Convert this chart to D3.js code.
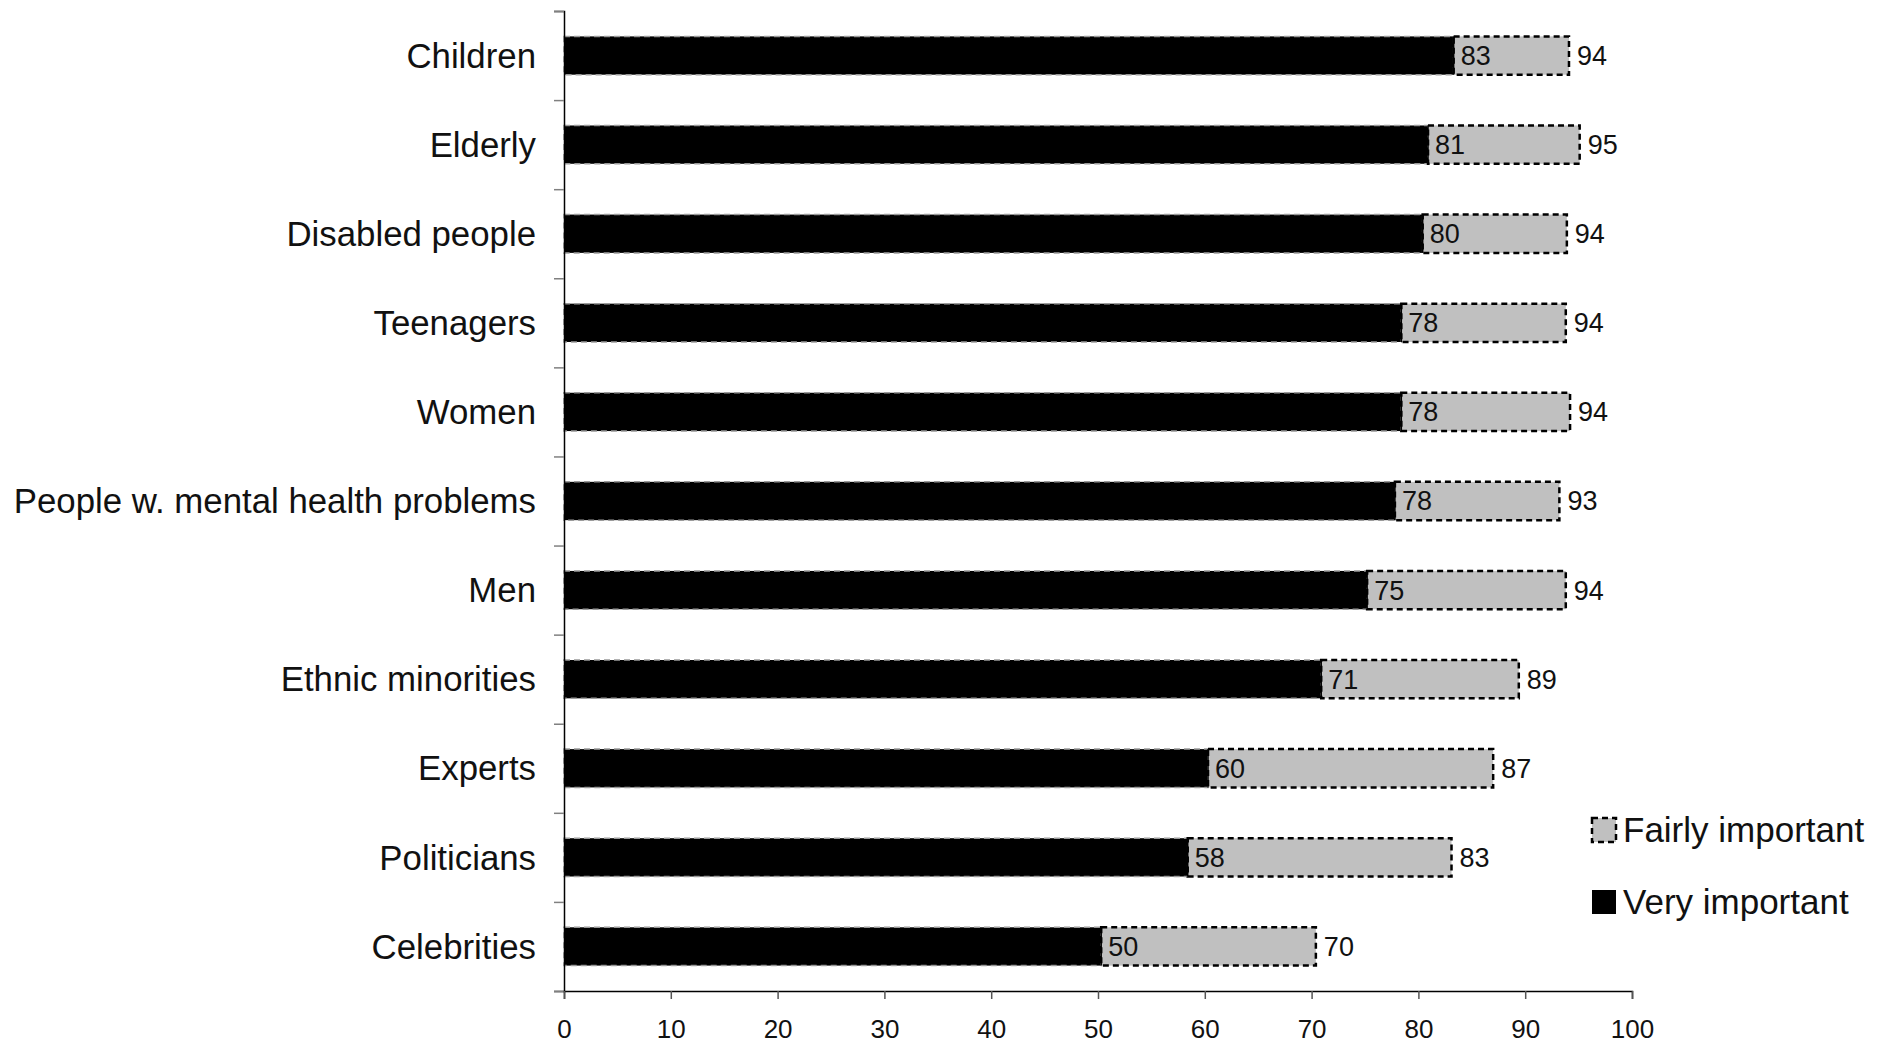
<!DOCTYPE html>
<html>
<head>
<meta charset="utf-8">
<script src="https://cdn.jsdelivr.net/npm/d3@7"></script>
<style>
  html, body { margin: 0; padding: 0; background: #fff; }
  svg { display: block; font-family: "Liberation Sans", Arial, sans-serif; }
</style>
</head>
<body>
<svg id="chart" width="1881" height="1044"></svg>
<script>
const categories = ["Children", "Elderly", "Disabled people", "Teenagers", "Women",
  "People w. mental health problems", "Men", "Ethnic minorities", "Experts", "Politicians", "Celebrities"];
const veryImportant   = [83.3, 80.9, 80.4, 78.4, 78.4, 77.8, 75.2, 70.9, 60.3, 58.4, 50.3];
const fairlyImportant = [10.8, 14.2, 13.5, 15.4, 15.8, 15.4, 18.6, 18.5, 26.7, 24.7, 20.1];
const xTicks = [0, 10, 20, 30, 40, 50, 60, 70, 80, 90, 100];
const seriesNames = ["Fairly important", "Very important"];

const W = 1881, H = 1044;
const margin = { left: 564, top: 11, right: 249, bottom: 53 };
const plotW = W - margin.left - margin.right;
const plotH = H - margin.top - margin.bottom;
const FONT = "'Liberation Sans', Arial, sans-serif";

const svg = d3.select("#chart");
const g = svg.append("g").attr("transform", `translate(${margin.left},${margin.top})`);

const x = d3.scaleLinear().domain([0, 100]).range([0, plotW]);
const y = d3.scaleBand().domain(categories).range([0, plotH]).padding(0);
const barH = y.bandwidth() * 0.43;
const yIdx = d3.scaleLinear().domain([0, categories.length]).range([0, plotH]);

const data = categories.map((c, i) => ({
  cat: c, very: veryImportant[i], fairly: fairlyImportant[i],
  total: veryImportant[i] + fairlyImportant[i]
}));

// bars: very important (black)
g.selectAll("rect.very").data(data).join("rect")
  .attr("class", "very")
  .attr("x", x(0))
  .attr("y", d => y(d.cat) + (y.bandwidth() - barH) / 2)
  .attr("width", d => x(d.very) - x(0))
  .attr("height", barH)
  .attr("fill", "#000")
  .attr("stroke", "#9a9a9a")
  .attr("stroke-width", 1.5)
  .attr("stroke-dasharray", "6,4");

// bars: fairly important (grey, dotted black outline)
g.selectAll("rect.fairly").data(data).join("rect")
  .attr("class", "fairly")
  .attr("x", d => x(d.very))
  .attr("y", d => y(d.cat) + (y.bandwidth() - barH) / 2)
  .attr("width", d => x(d.total) - x(d.very))
  .attr("height", barH)
  .attr("fill", "#c0c0c0")
  .attr("stroke", "#000")
  .attr("stroke-width", 2.5)
  .attr("stroke-dasharray", "6,4");

// black end edge over grey outline
g.selectAll("line.sep").data(data).join("line")
  .attr("class", "sep")
  .attr("x1", d => x(d.very)).attr("x2", d => x(d.very))
  .attr("y1", d => y(d.cat) + (y.bandwidth() - barH) / 2)
  .attr("y2", d => y(d.cat) + (y.bandwidth() + barH) / 2)
  .attr("stroke", "#000").attr("stroke-width", 1.5);

// value labels
g.selectAll("text.vlab").data(data).join("text")
  .attr("class", "vlab")
  .attr("x", d => x(d.very) + 7)
  .attr("y", d => y(d.cat) + y.bandwidth() / 2)
  .attr("dy", "0.35em")
  .attr("font-size", 27)
  .attr("fill", "#111")
  .text(d => d3.format(".0f")(d.very));

g.selectAll("text.tlab").data(data).join("text")
  .attr("class", "tlab")
  .attr("x", d => x(d.total) + 8)
  .attr("y", d => y(d.cat) + y.bandwidth() / 2)
  .attr("dy", "0.35em")
  .attr("font-size", 27)
  .attr("fill", "#111")
  .text(d => d3.format(".0f")(d.total));

// y axis (ticks at band boundaries)
const yAxis = g.append("g")
  .call(d3.axisLeft(yIdx).tickValues(d3.range(0, categories.length + 1)).tickSize(10).tickFormat(""));
yAxis.select(".domain").attr("stroke", "#000").attr("stroke-width", 1.5);
yAxis.selectAll(".tick line").attr("stroke", "#808080").attr("stroke-width", 1.5);

// category labels
g.selectAll("text.cat").data(categories).join("text")
  .attr("class", "cat")
  .attr("x", -28)
  .attr("y", d => y(d) + y.bandwidth() / 2)
  .attr("dy", "0.35em")
  .attr("text-anchor", "end")
  .attr("font-size", 34.8)
  .attr("fill", "#111")
  .text(d => d);

// x axis
const xAxis = g.append("g")
  .attr("transform", `translate(0,${plotH})`)
  .call(d3.axisBottom(x).tickValues(xTicks).tickSize(8).tickSizeOuter(8));
xAxis.select(".domain").attr("stroke", "#000").attr("stroke-width", 1.5);
xAxis.selectAll(".tick line").attr("stroke", "#555").attr("stroke-width", 1.5);
xAxis.selectAll(".tick text")
  .attr("y", 47).attr("dy", 0)
  .attr("font-size", 26)
  .attr("font-family", FONT)
  .attr("fill", "#111");

// legend
const legend = svg.append("g").attr("transform", "translate(1592,818)");
const legItems = legend.selectAll("g").data(seriesNames).join("g")
  .attr("transform", (d, i) => `translate(0,${i * 72})`);
legItems.append("rect")
  .attr("width", 24).attr("height", 24)
  .attr("fill", (d, i) => i === 0 ? "#c0c0c0" : "#000")
  .attr("stroke", (d, i) => i === 0 ? "#000" : "none")
  .attr("stroke-width", 2.5)
  .attr("stroke-dasharray", "6,4");
legItems.append("text")
  .attr("x", 31).attr("y", 24)
  .attr("font-size", 35)
  .attr("fill", "#111")
  .text(d => d);
</script>
</body>
</html>
